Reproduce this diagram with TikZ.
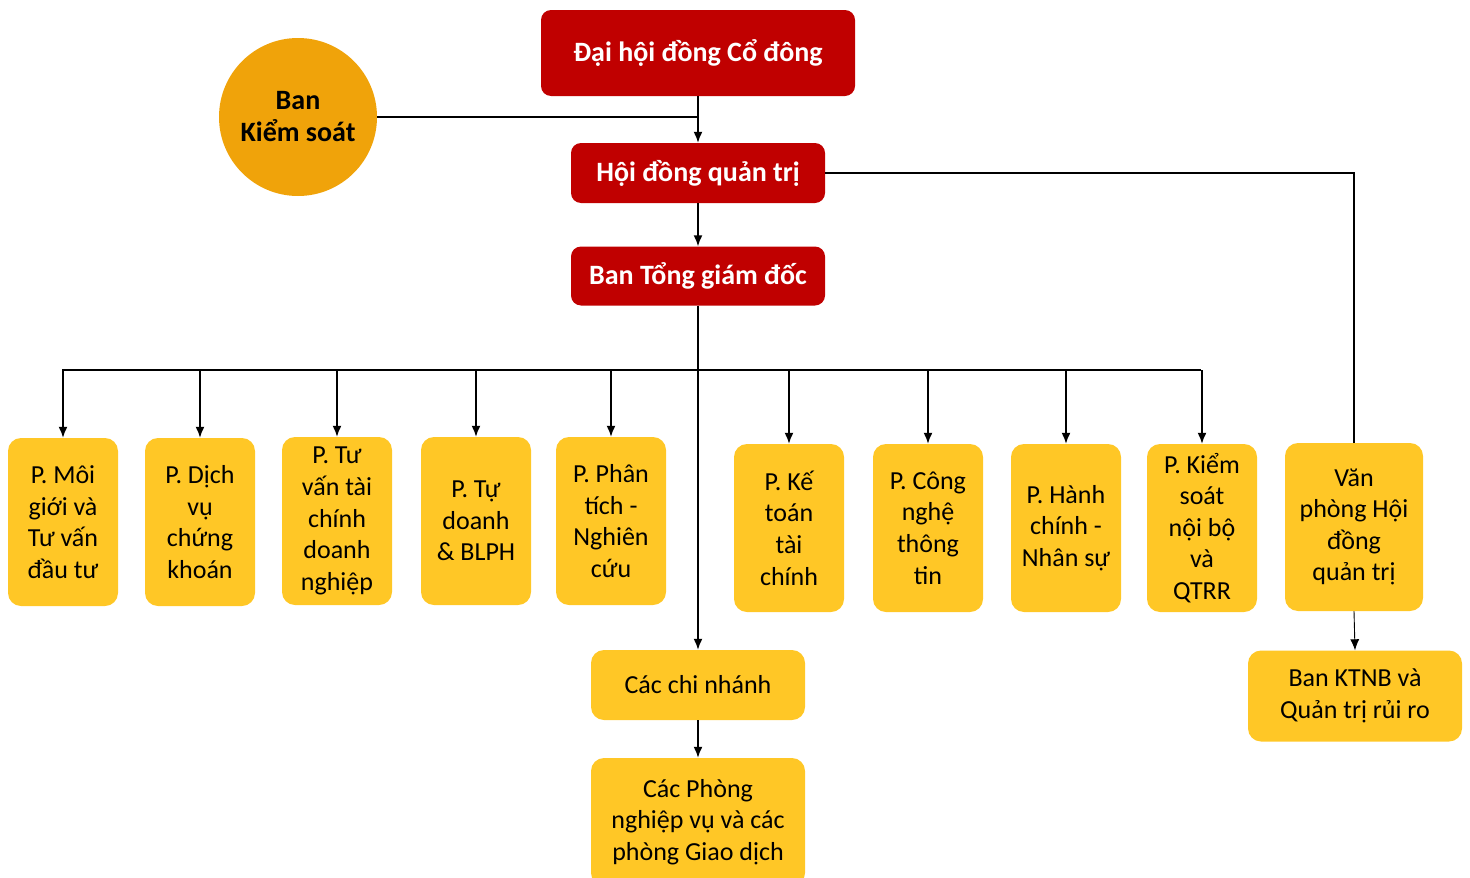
\documentclass[tikz,border=0pt]{standalone}
\usepackage{fontspec}
\setmainfont{Carlito}
\usepackage{tikz}
\usetikzlibrary{arrows.meta,positioning}
\definecolor{boardred}{HTML}{C00000}
\definecolor{deptgold}{HTML}{FFC726}
\definecolor{auditorange}{HTML}{F0A30A}
\tikzset{ head/.style={fill=boardred,text=white,rounded corners=10pt,inner sep=0pt,font=\bfseries\fontsize{28}{32}\selectfont} }
\tikzset{ dept/.style={fill=deptgold,rounded corners=13pt,inner sep=0pt,align=center,minimum width=110pt,minimum height=168pt,font=\fontsize{26}{31.6}\selectfont} }
\tikzset{ link/.style={-{Latex[length=11pt,width=9pt]},line width=1.6pt} }

\begin{document}
\begin{tikzpicture}[x=1pt,y=-1pt]
  \useasboundingbox (0,0) rectangle (1470,878);
  \node[head,minimum width=314pt,minimum height=86pt] (dhcd) at (698,53) {Đại hội đồng Cổ đông};
  \node[circle,fill=auditorange,minimum size=158pt,inner sep=0pt,align=center,font=\bfseries\fontsize{28}{32}\selectfont] (bks) at (298,117) {Ban\\Kiểm soát};
  \node[head,minimum width=254pt,minimum height=60pt] (hdqt) at (698,173) {Hội đồng quản trị};
  \node[head,minimum width=254pt,minimum height=59pt] (btgd) at (698,276) {Ban Tổng giám đốc};
  % cac phong ban
  \node[dept] (moigioi) at (63,522) {P. Môi\\giới và\\Tư vấn\\đầu tư};
  \node[dept] (dichvu) at (200,522) {P. Dịch\\vụ\\chứng\\khoán};
  \node[dept] (tuvan) at (337,521) {P. Tư\\vấn tài\\chính\\doanh\\nghiệp};
  \node[dept] (tudoanh) at (476,521) {P. Tự\\doanh\\\& BLPH};
  \node[dept] (phantich) at (611,521) {P. Phân\\tích -\\Nghiên\\cứu};
  \node[dept] (ketoan) at (789,528) {P. Kế\\toán\\tài\\chính};
  \node[dept] (cntt) at (928,528) {P. Công\\nghệ\\thông\\tin};
  \node[dept] (hanhchinh) at (1066,528) {P. Hành\\chính -\\Nhân sự};
  \node[dept] (kiemsoat) at (1202,528) {P. Kiểm\\soát\\nội bộ\\và\\QTRR};
  \node[dept,minimum width=138pt] (vphdqt) at (1354,527) {Văn\\phòng Hội\\đồng\\quản trị};
  \node[dept,minimum width=214pt,minimum height=91pt] (ktnb) at (1355,696) {Ban KTNB và\\Quản trị rủi ro};
  \node[dept,minimum width=214pt,minimum height=70pt] (chinhanh) at (698,685) {Các chi nhánh};
  \node[dept,minimum width=214pt,minimum height=128pt] (phong) at (698,822) {Các Phòng\\nghiệp vụ và các\\phòng Giao dịch};
  % ket noi
  \draw[link] (dhcd.south) -- (hdqt.north);
  \draw[line width=1.6pt] (bks.east) -- (dhcd.south |- bks.east);
  \draw[link] (hdqt.south) -- (btgd.north);
  \draw[line width=1.6pt] (hdqt.east) -| (vphdqt.north);
  \draw[link,line width=0.9pt] (vphdqt.south) -- (ktnb.north);
  \draw[link] (btgd.south) -- (chinhanh.north);
  \draw[link] (chinhanh.south) -- (phong.north);
  \draw[line width=1.6pt] (62,370) -- (1201,370);
  \draw[link] (moigioi.north |- 0,370) -- (moigioi.north);
  \draw[link] (dichvu.north |- 0,370) -- (dichvu.north);
  \draw[link] (tuvan.north |- 0,370) -- (tuvan.north);
  \draw[link] (tudoanh.north |- 0,370) -- (tudoanh.north);
  \draw[link] (phantich.north |- 0,370) -- (phantich.north);
  \draw[link] (ketoan.north |- 0,370) -- (ketoan.north);
  \draw[link] (cntt.north |- 0,370) -- (cntt.north);
  \draw[link] (hanhchinh.north |- 0,370) -- (hanhchinh.north);
  \draw[link] (kiemsoat.north |- 0,370) -- (kiemsoat.north);
\end{tikzpicture}
\end{document}
